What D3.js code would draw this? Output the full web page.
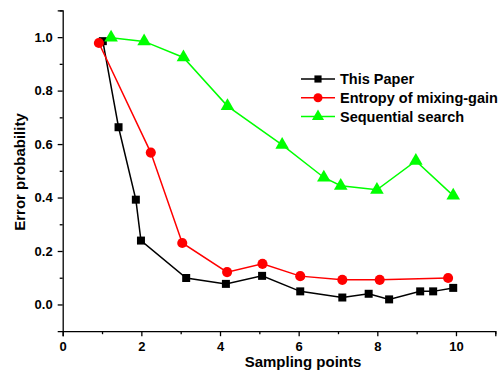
<!DOCTYPE html>
<html>
<head>
<meta charset="utf-8">
<script src="https://cdn.jsdelivr.net/npm/d3@7/dist/d3.min.js"></script>
<style>
  html, body { margin: 0; padding: 0; background: #fff; }
  svg { display: block; }
  text { font-family: "Liberation Sans", Arial, Helvetica, sans-serif; font-weight: bold; fill: #000; }
</style>
</head>
<body>
<svg id="chart" width="501" height="374"></svg>
<script>
// Series: sampling points (x) and error probability (y)
const paperX = [1.02, 1.42, 1.86, 1.99, 3.14, 4.15, 5.07, 6.04, 7.11, 7.78, 8.30, 9.09, 9.42, 9.93];
const paperY = [0.985, 0.663, 0.392, 0.239, 0.099, 0.077, 0.107, 0.049, 0.026, 0.040, 0.019, 0.049, 0.049, 0.062];

const entropyX = [0.92, 2.24, 3.04, 4.18, 5.08, 6.04, 7.11, 8.06, 9.80];
const entropyY = [0.978, 0.568, 0.230, 0.121, 0.152, 0.106, 0.092, 0.092, 0.099];

const seqX = [1.23, 2.07, 3.07, 4.19, 5.58, 6.64, 7.07, 7.99, 8.98, 9.93];
const seqY = [0.998, 0.984, 0.924, 0.742, 0.597, 0.475, 0.444, 0.429, 0.537, 0.407];

const seriesNames = ["This Paper", "Entropy of mixing-gain", "Sequential search"];
const seriesColors = ["#000000", "#ff0000", "#00ff00"];
const seriesSymbols = [d3.symbolSquare, d3.symbolCircle, d3.symbolTriangle];
const symbolSizes = [64, 80, 80];

const xMajorTicks = [0, 2, 4, 6, 8, 10];
const xMinorTicks = [1, 3, 5, 7, 9, 11];
const yMajorTicks = [0.0, 0.2, 0.4, 0.6, 0.8, 1.0];
const yMinorTicks = [0.1, 0.3, 0.5, 0.7, 0.9, 1.1];

const xTitle = "Sampling points";
const yTitle = "Error probability";

const svg = d3.select("#chart");

const x = d3.scaleLinear().domain([0, 11]).range([62.7, 495.3]);
const y = d3.scaleLinear().domain([-0.1, 1.1]).range([331.2, 10.4]);

// Axes: minor ticks first, then major ticks with labels
const gx = svg.append("g").attr("transform", `translate(0,${y(-0.1)})`);
gx.call(d3.axisBottom(x).tickValues(xMinorTicks).tickSize(3).tickFormat(""));
gx.call(g => g.selectAll(".domain").remove());
const gxMajor = svg.append("g").attr("transform", `translate(0,${y(-0.1)})`)
  .call(d3.axisBottom(x).tickValues(xMajorTicks).tickSize(5).tickPadding(6).tickFormat(d3.format("d")));

const gy = svg.append("g").attr("transform", `translate(${x(0)},0)`);
gy.call(d3.axisLeft(y).tickValues(yMinorTicks).tickSize(3).tickFormat(""));
gy.call(g => g.selectAll(".domain").remove());
const gyMajor = svg.append("g").attr("transform", `translate(${x(0)},0)`)
  .call(d3.axisLeft(y).tickValues(yMajorTicks).tickSize(5).tickPadding(5).tickFormat(d3.format(".1f")));

svg.selectAll(".domain, .tick line").attr("stroke", "#000").attr("stroke-width", 1.3);
svg.selectAll("g").attr("font-family", null).attr("font-size", null);
gxMajor.selectAll("text").attr("font-size", 13);
gyMajor.selectAll("text").attr("font-size", 13);

// Axis titles
svg.append("text")
  .attr("x", (x(0) + x(11)) / 2 + 24)
  .attr("y", 367)
  .attr("text-anchor", "middle")
  .attr("font-size", 15)
  .text(xTitle);

svg.append("text")
  .attr("transform", `translate(25,${172}) rotate(-90)`)
  .attr("text-anchor", "middle")
  .attr("font-size", 15)
  .text(yTitle);

// Series lines and markers
const series = [
  { xs: paperX, ys: paperY },
  { xs: entropyX, ys: entropyY },
  { xs: seqX, ys: seqY }
];

const line = d3.line().x(d => x(d[0])).y(d => y(d[1]));

series.forEach((s, i) => {
  const pts = s.xs.map((v, k) => [v, s.ys[k]]);
  svg.append("path")
    .datum(pts)
    .attr("fill", "none")
    .attr("stroke", seriesColors[i])
    .attr("stroke-width", 1.5)
    .attr("d", line);
  svg.append("g").selectAll("path")
    .data(pts)
    .join("path")
    .attr("transform", d => `translate(${x(d[0])},${y(d[1])})`)
    .attr("d", d3.symbol().type(seriesSymbols[i]).size(symbolSizes[i]))
    .attr("fill", seriesColors[i]);
});

// Legend
const legend = svg.append("g").attr("transform", "translate(301,79)");
seriesNames.forEach((name, i) => {
  const row = legend.append("g").attr("transform", `translate(0,${i * 18.8})`);
  row.append("line")
    .attr("x1", 0).attr("x2", 34).attr("y1", 0).attr("y2", 0)
    .attr("stroke", seriesColors[i]).attr("stroke-width", 1.5);
  row.append("path")
    .attr("transform", "translate(17,0)")
    .attr("d", d3.symbol().type(seriesSymbols[i]).size(symbolSizes[i] * 0.8))
    .attr("fill", seriesColors[i]);
  row.append("text")
    .attr("x", 39)
    .attr("y", 0)
    .attr("dy", "0.36em")
    .attr("font-size", 14.5)
    .text(name);
});
</script>
</body>
</html>
